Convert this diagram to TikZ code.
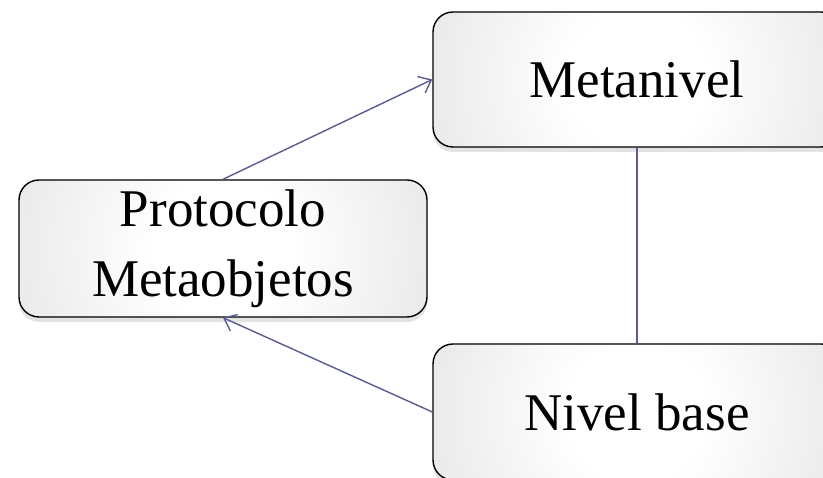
\documentclass[tikz,border=0pt]{standalone}
\usepackage{fontspec}
\setmainfont{Liberation Serif}
\usetikzlibrary{arrows.meta,shadows}
\definecolor{linkcol}{RGB}{88,90,150}
\pgfdeclareradialshading{boxcirc}{\pgfpoint{0bp}{0bp}}{%
  color(0bp)=(white); color(8bp)=(white); color(28bp)=(black!10);
  color(44bp)=(black!24); color(50bp)=(black!28)}
\tikzset{
  box/.style={draw=black, line width=1.4pt, rounded corners=20pt,
    fill=black!28,
    path picture={\shade[shading=boxcirc]
      (path picture bounding box.center) circle (215pt);},
    drop shadow={opacity=0.22, shadow xshift=0pt, shadow yshift=-5pt},
    minimum width=408pt, align=center, inner sep=0pt,
    font=\fontsize{53}{66}\selectfont},
  link/.style={draw=linkcol, line width=1.4pt},
  linkarrow/.style={link, -{Straight Barb[length=11pt,width=18pt,line width=1.4pt]}}
}
\begin{document}
\begin{tikzpicture}[x=1pt,y=1pt]
\useasboundingbox (0,0) rectangle (823,478);
\node[box, minimum height=135pt] (meta) at (637,398.5) {Metanivel};
\node[box, minimum height=136pt] (base) at (637,66) {Nivel base};
\node[box, minimum height=137pt] (proto) at (223,229.5) {Protocolo\\[4pt]Metaobjetos};
\draw[linkarrow] (proto.north) -- (meta.west);
\draw[linkarrow] (base.west) -- (proto.south);
\draw[link] (meta.south) -- (base.north);
\end{tikzpicture}
\end{document}
